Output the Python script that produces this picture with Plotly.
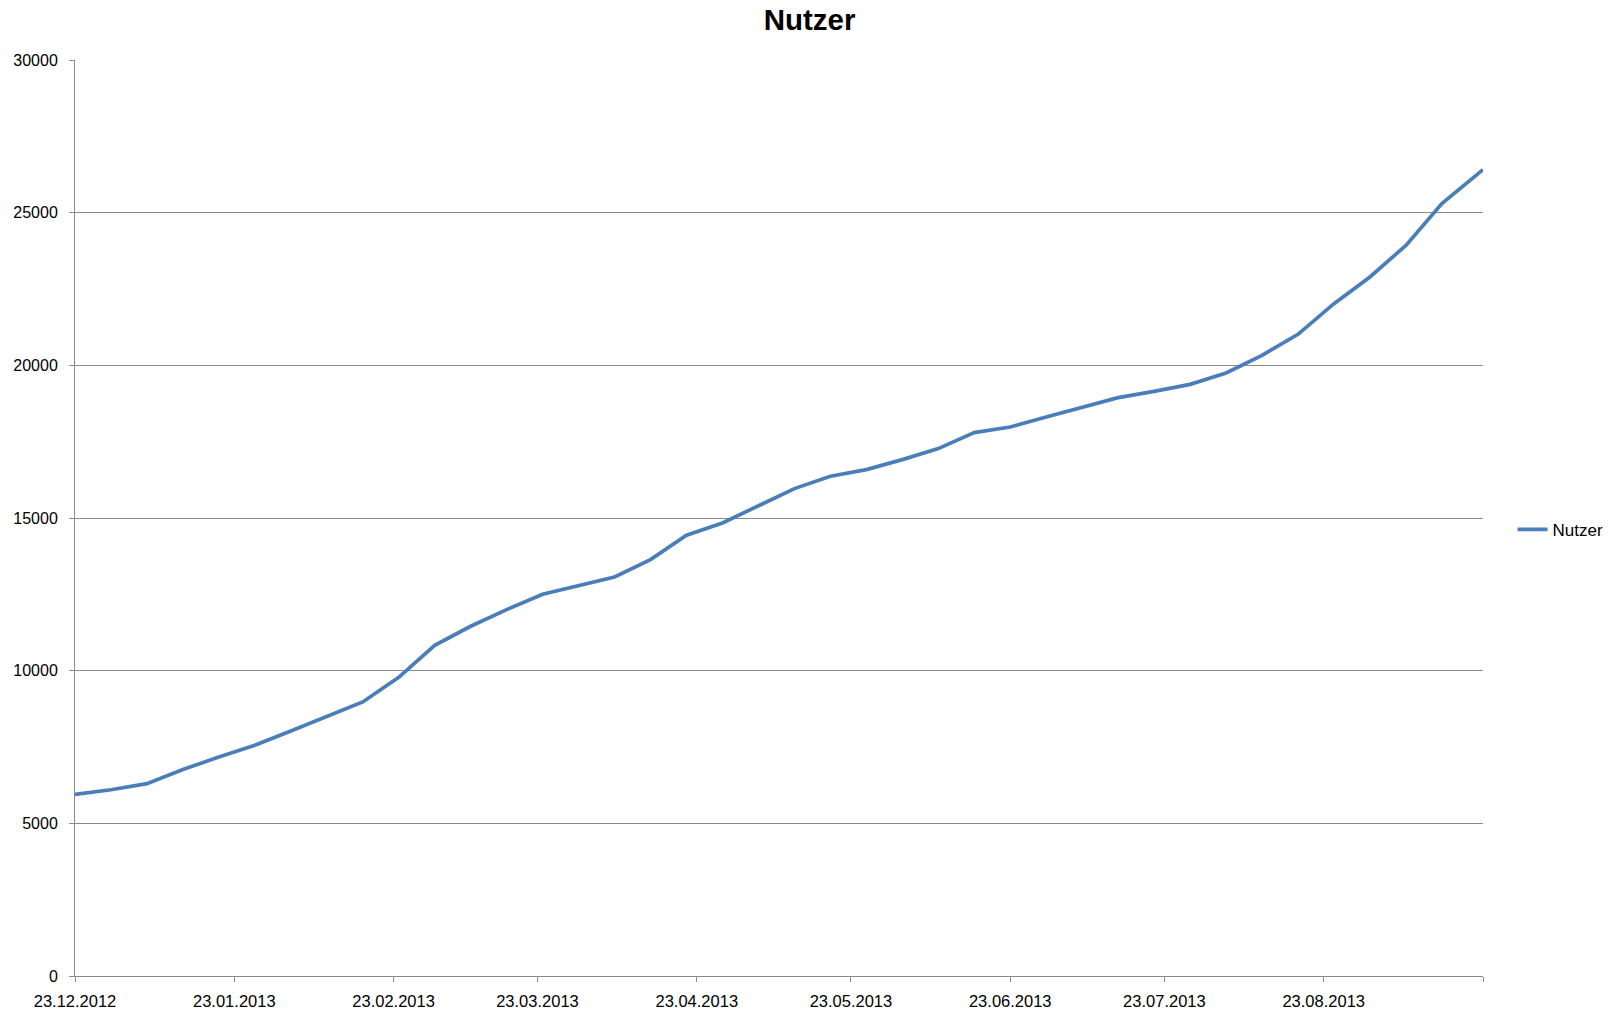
import plotly.graph_objects as go
import pandas as pd

# Weekly data points (last reading taken on 23.09.2013)
dates = list(pd.date_range("2012-12-23", periods=39, freq="7D")) + [pd.Timestamp("2013-09-23")]

nutzer = [5950, 6100, 6300, 6760, 7175, 7557, 8026, 8507, 8975, 9780,
          10830, 11454, 12000, 12502, 12796, 13068, 13638, 14434, 14837, 15400,
          15963, 16366, 16584, 16912, 17272, 17796, 17980, 18307, 18634, 18942,
          19149, 19378, 19748, 20328, 21015, 22020, 22893, 23930, 25295, 26408]

tick_dates = ["2012-12-23", "2013-01-23", "2013-02-23", "2013-03-23", "2013-04-23",
              "2013-05-23", "2013-06-23", "2013-07-23", "2013-08-23", "2013-09-23"]
tick_labels = ["23.12.2012", "23.01.2013", "23.02.2013", "23.03.2013", "23.04.2013",
               "23.05.2013", "23.06.2013", "23.07.2013", "23.08.2013", ""]

y_ticks = [0, 5000, 10000, 15000, 20000, 25000, 30000]

FONT = "Liberation Sans, Arial, sans-serif"
GRID = "#8a8a8a"

fig = go.Figure()
fig.add_trace(go.Scatter(
    x=dates, y=nutzer, mode="lines", name="Nutzer",
    line=dict(color="#4a7ebb", width=3.7),
))

fig.update_layout(
    width=1614, height=1010,
    paper_bgcolor="white", plot_bgcolor="white",
    margin=dict(l=75, r=131, t=60, b=34, autoexpand=False),
    title=dict(text="<b>Nutzer</b>", x=0.5016, xanchor="center", y=0.981, yanchor="middle",
               font=dict(family=FONT, size=29.5, color="black")),
    font=dict(family=FONT, size=16, color="black"),
    showlegend=True,
    legend=dict(x=1.021, xanchor="left", y=0.487, yanchor="middle",
                font=dict(family=FONT, size=17, color="black"),
                bgcolor="rgba(0,0,0,0)", itemwidth=30),
)

fig.update_xaxes(
    type="date", range=[tick_dates[0], tick_dates[-1]],
    tickmode="array", tickvals=tick_dates, ticktext=tick_labels,
    showline=True, linecolor=GRID, linewidth=1,
    ticks="outside", ticklen=5, tickcolor=GRID,
    showgrid=False, zeroline=False, automargin=False,
    tickfont=dict(family=FONT, size=16.5, color="black"),
    ticklabelstandoff=5,
)
fig.update_yaxes(
    range=[0, 30000], tickmode="array", tickvals=y_ticks,
    ticktext=[str(v) for v in y_ticks],
    showline=True, linecolor=GRID, linewidth=1,
    ticks="outside", ticklen=5, tickcolor=GRID,
    showgrid=True, gridcolor=GRID, gridwidth=1, zeroline=False, automargin=False,
    tickfont=dict(family=FONT, size=16, color="black"),
    ticklabelstandoff=8,
)

fig.write_html("out.html", config={"displayModeBar": False},
               post_script="document.body.style.margin='0';")
